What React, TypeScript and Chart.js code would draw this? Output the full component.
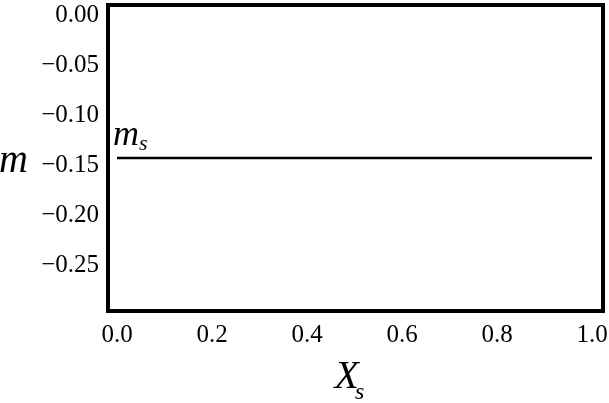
import React, { useEffect, useRef } from "react";
import { Chart, registerables } from "chart.js";

Chart.register(...registerables);

const xTicks = [0.0, 0.2, 0.4, 0.6, 0.8, 1.0];
const yTicks = [0.0, -0.05, -0.1, -0.15, -0.2, -0.25];
const xs = [0, 1];
const msValue = -0.143;
const msSeries = [msValue, msValue];
const xRange = [-0.019, 1.023];
const yRange = [-0.296, 0.01];

const SERIF = "'Liberation Serif', 'Times New Roman', serif";

const fmtY = (v: number) => {
  const s = Math.abs(v).toFixed(2);
  return v < -1e-9 ? "\u2212" + s : s;
};

const zeroPad = (axis: any) => {
  axis.paddingLeft = 0;
  axis.paddingRight = 0;
  axis.paddingTop = 0;
  axis.paddingBottom = 0;
};

const textPlugin = {
  id: "texts",
  afterDraw(chart: any) {
    const { ctx, chartArea } = chart;
    const xs_ = chart.scales.x;
    const ys_ = chart.scales.y;
    ctx.save();
    ctx.strokeStyle = "#000";
    ctx.lineWidth = 4;
    ctx.strokeRect(chartArea.left, chartArea.top, chartArea.right - chartArea.left, chartArea.bottom - chartArea.top);
    ctx.fillStyle = "#000";
    ctx.textBaseline = "alphabetic";
    ctx.textAlign = "left";
    // y title
    ctx.font = `italic 40px ${SERIF}`;
    ctx.fillText("m", -1, ys_.getPixelForValue(msValue) + 14);
    // x title
    const cx = (chartArea.left + chartArea.right) / 2;
    ctx.font = `italic 40px ${SERIF}`;
    const wX = ctx.measureText("X").width;
    ctx.fillText("X", cx - 21, 388);
    ctx.font = `italic 24px ${SERIF}`;
    ctx.fillText("s", cx - 21 + wX - 4, 399);
    // m_s label
    const lx = xs_.getPixelForValue(0) - 4;
    const ly = ys_.getPixelForValue(msValue) - 13;
    ctx.font = `italic 36px ${SERIF}`;
    const wm = ctx.measureText("m").width;
    ctx.fillText("m", lx, ly);
    ctx.font = `italic 22px ${SERIF}`;
    ctx.fillText("s", lx + wm, ly + 5);
    ctx.restore();
  },
};

export default function App() {
  const ref = useRef<HTMLCanvasElement>(null);
  useEffect(() => {
    const chart = new Chart(ref.current!, {
      type: "line",
      data: {
        datasets: [
          {
            data: xs.map((x, i) => ({ x, y: msSeries[i] })),
            borderColor: "#000",
            borderWidth: 2.5,
            pointRadius: 0,
            fill: false,
          },
        ],
      },
      options: {
        animation: false,
        responsive: false,
        devicePixelRatio: 1,
        layout: { padding: { top: 5, right: 6, left: 0, bottom: 0 } },
        plugins: { legend: { display: false }, tooltip: { enabled: false } },
        scales: {
          x: {
            type: "linear",
            min: xRange[0],
            max: xRange[1],
            afterBuildTicks: (axis: any) => {
              axis.ticks = xTicks.map((v) => ({ value: v }));
            },
            afterFit: (axis: any) => {
              axis.height = 92;
              zeroPad(axis);
            },
            grid: { display: false, drawTicks: false },
            border: { display: false },
            ticks: {
              color: "#000",
              font: { family: SERIF, size: 25 },
              padding: 9,
              maxRotation: 0,
              autoSkip: false,
              callback: (v: any) => Number(v).toFixed(1),
            },
          },
          y: {
            type: "linear",
            min: yRange[0],
            max: yRange[1],
            afterBuildTicks: (axis: any) => {
              axis.ticks = yTicks.map((v) => ({ value: v }));
            },
            afterFit: (axis: any) => {
              axis.width = 108;
              zeroPad(axis);
            },
            grid: { display: false, drawTicks: false },
            border: { display: false },
            ticks: {
              color: "#000",
              font: { family: SERIF, size: 25 },
              padding: 9,
              autoSkip: false,
              callback: (v: any) => fmtY(Number(v)),
            },
          },
        },
      },
      plugins: [textPlugin],
    });
    return () => chart.destroy();
  }, []);
  return (
    <div style={{ position: "fixed", left: 0, top: 0, width: 609, height: 403, background: "#fff" }}>
      <canvas ref={ref} width={609} height={403} style={{ width: 609, height: 403, display: "block" }} />
    </div>
  );
}
